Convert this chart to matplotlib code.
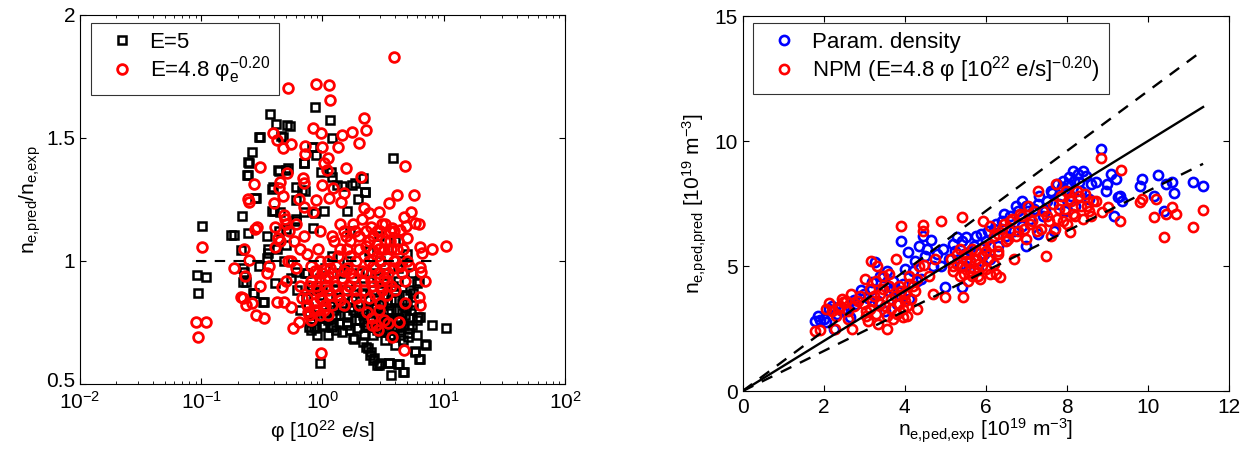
import matplotlib
matplotlib.use("Agg")
import matplotlib.pyplot as plt
import matplotlib.transforms as mtransforms
import numpy as np

# ---------------- data: left panel ----------------
sq_phi = [0.093, 0.094, 0.11, 0.101, 0.177, 0.185, 0.218, 0.214, 0.225, 0.22, 0.223, 0.234,
          0.243, 0.239, 0.243, 0.249, 0.262, 0.242, 0.267, 0.274, 0.279, 0.283, 0.297, 0.30,
          0.307, 0.323, 0.327, 0.347, 0.353, 0.355, 0.371, 0.383, 0.385, 0.39, 0.40, 0.404,
          0.416, 0.43, 0.435, 0.44, 0.458, 0.469, 0.48, 0.50, 0.504, 0.504, 0.51, 0.515,
          0.536, 0.55, 0.60, 0.61, 0.61, 0.61, 0.62, 0.65, 0.683, 0.705, 0.707, 0.714,
          0.716, 0.738, 0.76, 0.776, 0.80, 0.826, 0.828, 0.84, 0.85, 0.865, 0.865, 0.89,
          0.892, 0.90, 0.95, 0.97, 1.01, 1.03, 1.05, 1.1, 1.15, 1.17, 1.19, 1.19,
          1.22, 1.25, 1.3, 1.31, 1.37, 1.4, 1.44, 1.5, 1.58, 1.58, 1.6, 1.68,
          1.74, 1.79, 1.82, 1.84, 1.9, 1.91, 1.98, 2.0, 2.1, 2.14, 2.14, 2.2,
          2.24, 2.24, 2.27, 2.31, 2.39, 2.46, 2.5, 2.5, 2.59, 2.66, 2.7, 2.8,
          2.8, 2.92, 2.98, 3.0, 3.08, 3.2, 3.39, 3.49, 3.54, 3.56, 3.65, 3.7,
          3.8, 3.85, 4.0, 4.1, 4.23, 4.27, 4.37, 4.5, 4.59, 4.69, 4.8, 4.96,
          5.06, 5.12, 5.16, 5.4, 5.63, 5.81, 5.85, 6.0, 6.19, 6.31, 6.35, 6.35,
          7.06, 7.16, 8.0, 10.4,
          1.2, 1.6, 2.4, 3.0, 3.5, 4.5, 2.0, 2.8, 1.4, 0.95, 0.8, 3.3,
          4.2, 5.5, 6.2, 5.0, 1.1, 0.9, 0.8, 1.3, 1.7, 2.6, 3.3, 4.0,
          4.6, 5.5, 6.0, 2.2, 3.8, 1.0, 0.75]
sq_ratio = [0.943, 0.869, 0.934, 1.144, 1.106, 1.104, 1.183, 1.045, 0.957, 0.916, 0.970, 0.916,
            1.112, 1.35, 1.404, 1.40, 1.444, 1.35, 0.869, 0.869, 1.255, 1.255, 1.503, 0.981,
            1.505, 0.835, 0.832, 1.014, 1.047, 1.031, 1.596, 1.205, 1.291, 1.30, 1.203, 0.909,
            1.556, 1.37, 1.367, 1.12, 1.508, 1.505, 1.0, 1.129, 1.37, 1.065, 1.553, 1.377,
            1.55, 0.93, 1.163, 1.248, 1.169, 0.957, 0.88, 0.80, 1.289, 1.40, 1.397, 0.95,
            1.285, 0.855, 0.814, 0.733, 0.76, 1.462, 1.465, 1.133, 0.78, 1.625, 1.196, 1.43,
            0.726, 0.80, 0.584, 1.363, 0.736, 1.203, 0.79, 0.85, 1.573, 1.36, 1.499, 1.34,
            0.74, 0.80, 0.88, 1.309, 0.747, 0.78, 1.306, 0.83, 1.203, 0.74, 0.78, 0.814,
            1.309, 0.686, 0.683, 1.316, 0.76, 0.726, 1.251, 0.80, 0.87, 1.336, 0.672, 0.75,
            1.282, 1.279, 0.652, 0.733, 0.645, 0.618, 0.631, 0.79, 0.598, 0.604, 0.84, 0.577,
            0.72, 0.577, 0.584, 0.80, 0.747, 0.86, 0.828, 0.76, 0.584, 0.587, 0.537, 0.80,
            0.70, 1.42, 0.88, 0.76, 0.581, 0.581, 0.72, 0.83, 0.55, 0.55, 0.78, 0.828,
            0.706, 0.692, 0.726, 0.80, 0.869, 0.631, 0.635, 0.909, 0.774, 0.60, 0.774, 0.602,
            0.663, 0.659, 0.74, 0.726,
            1.02, 1.0, 1.04, 1.0, 1.05, 1.0, 0.95, 0.93, 0.95, 0.93, 0.88, 0.95,
            0.92, 0.95, 0.92, 0.86, 0.70, 0.70, 0.72, 0.72, 0.72, 0.70, 0.68, 0.66,
            0.68, 0.74, 0.76, 0.90, 0.90, 0.88, 0.95]
sq_phi_dense = [2.3, 2.5, 2.7, 2.9, 3.1, 3.3, 3.5, 3.7, 3.9, 4.1, 4.3, 4.6,
                4.9, 2.4, 2.6, 3.0, 3.4, 3.6, 4.0, 4.4, 4.8, 2.2, 2.0, 1.8,
                1.6, 1.45, 1.3, 1.2, 1.1, 1.0, 0.93, 0.85, 0.78, 0.75, 0.82, 0.95,
                1.15, 1.35, 1.55, 1.75, 1.95, 2.15, 2.35, 2.75, 3.15, 3.45, 3.75, 4.15,
                4.5, 5.2, 5.6, 6.0, 5.3, 1.05, 1.25, 1.5, 1.9, 2.5, 3.2, 4.2,
                5.0, 4.0, 2.9, 1.7, 0.7, 0.6, 0.45, 0.42, 0.35]
sq_ratio_dense = [0.80, 0.76, 0.73, 0.78, 0.82, 0.74, 0.79, 0.84, 0.72, 0.80, 0.77, 0.74,
                  0.81, 0.84, 0.88, 0.71, 0.86, 0.70, 0.84, 0.70, 0.86, 0.70, 0.76, 0.80,
                  0.75, 0.71, 0.78, 0.73, 0.76, 0.74, 0.77, 0.73, 0.79, 0.85, 0.90, 0.86,
                  0.82, 0.85, 0.88, 0.84, 0.82, 0.78, 0.74, 0.81, 0.77, 0.72, 0.77, 0.73,
                  0.79, 0.77, 0.82, 0.70, 0.88, 0.97, 0.92, 0.96, 0.90, 0.95, 0.91, 0.97,
                  1.03, 1.08, 1.10, 1.12, 1.20, 1.30, 1.20, 1.05, 1.10]

ci_phi = [0.091, 0.094, 0.11, 0.101, 0.185, 0.213, 0.222, 0.232, 0.23, 0.226, 0.25, 0.245,
          0.25, 0.274, 0.263, 0.283, 0.287, 0.28, 0.305, 0.307, 0.331, 0.347, 0.36, 0.388,
          0.395, 0.406, 0.406, 0.421, 0.421, 0.427, 0.44, 0.449, 0.463, 0.469, 0.47, 0.478,
          0.486, 0.49, 0.50, 0.51, 0.515, 0.52, 0.53, 0.549, 0.549, 0.567, 0.58, 0.60,
          0.635, 0.643, 0.65, 0.677, 0.685, 0.70, 0.70, 0.716, 0.72, 0.74, 0.763, 0.78,
          0.80, 0.80, 0.84, 0.84, 0.85, 0.88, 0.88, 0.88, 0.90, 0.92, 0.95, 0.969,
          0.98, 1.0, 1.0, 1.0, 1.03, 1.04, 1.06, 1.085, 1.1, 1.11, 1.13, 1.13,
          1.15, 1.15, 1.2, 1.21, 1.25, 1.3, 1.35, 1.35, 1.4, 1.43, 1.46, 1.5,
          1.51, 1.55, 1.55, 1.6, 1.7, 1.76, 1.8, 1.85, 1.9, 2.0, 2.0, 2.06,
          2.1, 2.2, 2.2, 2.2, 2.27, 2.3, 2.31, 2.4, 2.42, 2.5, 2.54, 2.6,
          2.7, 2.8, 2.87, 2.92, 2.95, 3.0, 3.1, 3.2, 3.3, 3.5, 3.54, 3.6,
          3.7, 3.76, 3.76, 3.88, 3.9, 4.1, 4.14, 4.27, 4.4, 4.5, 4.69, 4.74,
          4.83, 4.83, 4.93, 4.99, 5.2, 5.39, 5.66, 5.85, 6.23, 6.23, 6.35, 6.35,
          6.35, 6.5, 6.66, 7.06, 8.0, 10.4,
          1.2, 1.7, 2.6, 3.3, 0.9, 1.1, 2.0, 3.0, 4.0, 2.8, 1.4, 0.75,
          0.95, 3.4, 2.3, 1.6]
ci_ratio = [0.751, 0.692, 0.753, 1.056, 0.970, 0.855, 0.85, 0.821, 0.94, 1.05, 1.004, 1.253,
            1.24, 1.312, 0.831, 0.78, 1.14, 1.13, 1.38, 0.9, 0.767, 0.95, 0.98, 1.519,
            1.234, 1.14, 1.058, 1.49, 0.835, 1.095, 1.295, 1.32, 0.895, 1.46, 1.264, 1.187,
            0.835, 1.17, 1.15, 1.356, 1.702, 1.0, 1.12, 1.474, 0.814, 0.726, 1.08, 0.97,
            1.252, 0.753, 1.05, 0.848, 1.339, 1.318, 1.10, 1.435, 1.467, 1.03, 0.794, 0.90,
            0.76, 0.98, 1.54, 1.20, 0.83, 1.718, 1.248, 0.90, 0.80, 1.05, 0.85, 1.519,
            0.625, 1.465, 1.309, 0.95, 1.40, 0.82, 0.90, 1.37, 1.0, 1.42, 1.715, 1.255,
            1.654, 0.86, 0.95, 1.295, 1.08, 0.90, 1.465, 1.02, 0.84, 1.24, 1.512, 0.96,
            1.275, 1.377, 1.10, 0.88, 1.02, 1.526, 0.93, 1.12, 0.85, 1.478, 1.05, 1.343,
            0.96, 1.58, 1.214, 0.88, 1.532, 1.06, 0.794, 1.0, 1.194, 0.92, 0.74, 1.1,
            0.86, 1.02, 0.72, 1.2, 0.95, 1.12, 0.88, 1.05, 0.97, 0.747, 1.234, 1.08,
            0.90, 1.133, 0.692, 1.831, 1.0, 1.05, 1.268, 0.753, 1.126, 0.95, 0.638, 1.18,
            1.388, 0.831, 1.144, 1.092, 0.98, 1.2, 1.268, 1.156, 1.15, 0.855, 1.056, 0.977,
            0.821, 0.957, 1.031, 0.919, 1.049, 1.061,
            1.1, 0.9, 0.98, 1.15, 0.95, 0.78, 0.82, 0.83, 0.88, 1.07, 1.15, 0.82,
            1.12, 0.92, 1.12, 1.05]
ci_phi_dense = [0.75, 0.8, 0.85, 0.9, 0.95, 1.0, 1.05, 1.1, 1.15, 1.2, 1.25, 1.3,
                1.35, 1.45, 1.5, 1.6, 1.65, 0.95, 0.87, 1.02, 1.1, 0.78, 1.4, 1.5,
                1.7, 1.8, 1.9, 2.0, 2.1, 2.2, 2.3, 2.4, 2.5, 2.6, 2.7, 2.8,
                2.9, 3.0, 3.1, 3.2, 3.3, 3.4, 3.5, 3.6, 3.7, 3.8, 3.9, 4.0,
                4.2, 4.4, 4.6, 4.8, 5.0, 2.2, 2.6, 3.0, 3.4, 1.9, 1.7, 2.4,
                2.9, 3.2, 2.75, 2.55, 0.65, 0.6, 0.7, 0.55, 0.45, 0.5]
ci_ratio_dense = [0.85, 0.92, 0.80, 0.88, 0.78, 0.84, 0.93, 0.88, 0.97, 0.82, 0.90, 0.98,
                  0.86, 0.93, 0.82, 0.97, 0.90, 1.0, 0.96, 0.80, 0.94, 0.78, 1.05, 1.12,
                  1.08, 1.15, 1.0, 1.10, 1.17, 1.02, 0.95, 1.08, 1.14, 1.04, 0.97, 1.12,
                  1.05, 1.0, 1.15, 0.93, 1.08, 1.02, 0.95, 1.12, 1.05, 0.97, 1.12, 1.0,
                  1.08, 0.98, 1.05, 0.92, 1.0, 0.92, 0.90, 0.90, 0.86, 0.88, 0.95, 0.85,
                  0.80, 0.76, 0.74, 0.77, 0.90, 1.15, 1.22, 1.0, 1.08, 0.92]

ref_phi = [0.09, 9.0]
ref_ratio = [1.0, 1.0]

# ---------------- data: right panel ----------------
par_exp = [1.78, 1.90, 2.01, 2.13, 2.25, 2.33, 2.45, 2.65, 2.8, 2.92, 3.1, 3.2,
           3.27, 3.35, 3.47, 3.5, 3.6, 3.71, 3.8, 3.91, 3.95, 4.08, 4.1, 4.2,
           4.36, 4.46, 4.5, 4.4, 4.65, 4.7, 4.95, 5.0, 5.1, 5.2, 5.3, 5.35,
           5.4, 5.45, 5.51, 5.6, 5.7, 5.8, 5.89, 5.95, 6.0, 6.1, 6.2, 6.3,
           6.4, 6.5, 6.6, 6.7, 6.8, 6.9, 6.98, 6.98, 7.1, 7.2, 7.28, 7.28,
           7.4, 7.5, 7.62, 7.67, 7.8, 7.87, 7.95, 8.02, 8.1, 8.17, 8.2, 8.27,
           8.35, 8.47, 8.55, 8.71, 8.84, 8.96, 9.16, 9.21, 9.26, 9.36, 9.8, 9.85,
           10.15, 10.25, 10.4, 10.45, 10.59, 10.64, 11.12, 11.36,
           1.85, 2.05, 2.2, 2.5, 2.75, 3.0, 3.2, 3.4, 3.55, 3.7, 3.9, 4.0,
           4.25, 4.3, 4.55, 4.8, 4.9, 5.25, 5.4, 5.5, 5.6, 5.75, 6.05, 6.25,
           6.45, 6.6, 6.75, 6.9, 7.05, 7.3, 7.45, 7.6, 7.75, 7.9, 8.05, 8.15,
           8.3, 8.4, 8.6, 8.0, 9.0, 9.3, 9.1]
par_pred = [2.80, 2.85, 2.89, 3.29, 2.49, 3.09, 3.2, 2.98, 3.5, 4.06, 3.71, 4.38,
            5.15, 3.6, 4.55, 3.2, 4.0, 4.42, 3.5, 6.02, 4.3, 5.55, 3.7, 4.8,
            5.82, 6.22, 5.42, 4.5, 6.04, 5.0, 5.68, 4.15, 5.3, 5.9, 6.15, 5.0,
            4.15, 5.5, 6.15, 5.2, 5.8, 4.9, 6.28, 5.5, 6.0, 5.3, 6.5, 5.8,
            6.8, 6.2, 7.0, 6.4, 7.2, 6.6, 7.41, 5.82, 6.9, 7.3, 7.48, 6.28,
            7.0, 7.6, 7.91, 6.42, 7.5, 8.15, 7.2, 8.28, 7.8, 8.41, 7.4, 8.68,
            8.0, 8.61, 7.7, 8.35, 9.70, 8.01, 7.01, 8.48, 7.75, 7.61, 8.21, 8.48,
            7.81, 8.64, 7.19, 8.28, 8.35, 7.91, 8.35, 8.21,
            3.0, 2.75, 3.4, 3.3, 3.65, 3.9, 4.1, 4.6, 4.8, 4.1, 3.8, 4.9,
            5.2, 4.4, 5.7, 5.5, 5.0, 5.6, 6.0, 5.0, 5.6, 6.2, 6.4, 6.7,
            7.1, 6.5, 7.4, 7.6, 7.2, 7.8, 7.2, 8.0, 8.3, 8.4, 8.55, 8.8,
            8.35, 8.8, 8.3, 8.0, 8.3, 7.8, 8.7]

npm_exp = [1.78, 1.9, 2.13, 2.28, 2.35, 2.48, 2.6, 2.67, 2.7, 2.85, 3.02, 3.05,
           3.15, 3.17, 3.25, 3.32, 3.4, 3.45, 3.56, 3.6, 3.65, 3.79, 3.85, 3.91,
           3.96, 4.0, 4.06, 4.1, 4.2, 4.31, 4.35, 4.46, 4.46, 4.48, 4.6, 4.7,
           4.75, 4.9, 4.98, 5.2, 5.3, 5.35, 5.42, 5.43, 5.5, 5.6, 5.65, 5.75,
           5.8, 5.9, 5.94, 6.0, 6.1, 6.2, 6.29, 6.34, 6.4, 6.5, 6.6, 6.7,
           6.8, 6.9, 7.0, 7.1, 7.2, 7.28, 7.35, 7.48, 7.5, 7.6, 7.72, 7.8,
           7.9, 7.97, 8.07, 8.1, 8.2, 8.3, 8.4, 8.5, 8.6, 8.71, 8.84, 8.86,
           9.01, 9.31, 9.34, 9.8, 9.85, 10.15, 10.2, 10.4, 10.45, 10.59, 10.69, 11.12,
           11.36]
npm_pred = [2.42, 2.45, 3.51, 2.49, 3.3, 3.55, 3.2, 3.89, 2.49, 3.6, 4.49, 3.0,
            3.3, 5.19, 3.8, 5.02, 3.5, 4.1, 2.49, 4.7, 3.7, 5.28, 4.2, 6.62,
            2.95, 3.6, 3.02, 4.6, 4.2, 3.29, 5.0, 6.64, 6.42, 5.06, 4.6, 3.89,
            5.3, 6.81, 3.75, 5.0, 5.5, 4.6, 6.95, 3.75, 5.2, 4.8, 5.7, 5.3,
            4.6, 5.0, 6.81, 5.6, 4.7, 6.2, 5.62, 4.55, 6.5, 6.0, 6.8, 5.3,
            6.4, 7.0, 6.1, 6.7, 7.2, 8.01, 6.5, 5.42, 7.0, 6.2, 8.28, 7.3,
            6.8, 8.01, 6.35, 7.6, 7.0, 7.8, 6.9, 7.4, 7.0, 7.61, 9.34, 7.15,
            7.35, 6.81, 8.85, 7.55, 7.68, 6.97, 7.68, 6.18, 7.08, 7.35, 7.08, 6.55,
            7.25]
npm_exp_dense = [3.05, 3.1, 3.2, 3.3, 3.35, 3.4, 3.5, 3.55, 3.6, 3.65, 3.7, 3.75,
                 3.8, 3.85, 3.9, 3.95, 4.0, 4.05, 4.1, 4.15, 4.25, 4.3, 3.3, 3.45,
                 3.15, 2.05, 2.2, 2.4, 2.55, 2.75, 2.9, 3.0, 2.3, 2.6, 2.45,
                 5.15, 5.2, 5.3, 5.35, 5.45, 5.5, 5.55, 5.6, 5.7, 5.75, 5.8, 5.85,
                 5.9, 6.0, 6.05, 6.1, 6.2, 6.25, 6.3, 5.95, 5.4, 5.65,
                 6.3, 6.45, 6.55, 6.65, 6.75, 6.85, 6.95, 7.05, 7.15, 7.25, 7.4, 7.55,
                 7.65, 7.75, 7.85, 7.95, 8.05, 8.15, 8.25, 8.35, 8.45, 8.55, 8.65, 8.0,
                 7.7, 6.1, 6.6]
npm_pred_dense = [3.2, 2.8, 3.6, 3.1, 2.7, 3.9, 3.4, 3.0, 4.2, 3.3, 2.9, 3.8,
                  3.1, 3.5, 4.0, 3.3, 3.9, 3.4, 4.3, 3.7, 4.0, 4.5, 4.4, 4.6,
                  4.1, 3.3, 3.2, 3.4, 3.6, 3.4, 3.8, 3.5, 3.0, 2.9, 3.7,
                  5.3, 4.8, 5.1, 5.7, 4.7, 5.5, 4.4, 5.2, 4.9, 5.6, 5.1, 4.5,
                  5.4, 4.9, 5.3, 5.8, 5.1, 4.7, 5.5, 5.75, 5.0, 4.6,
                  6.3, 6.7, 6.1, 6.9, 6.2, 7.1, 6.5, 7.4, 6.8, 6.4, 7.2, 6.8,
                  7.5, 6.9, 7.8, 7.3, 7.7, 7.1, 8.0, 7.4, 7.9, 7.2, 7.6, 6.7,
                  6.5, 6.6, 6.4]

line_x = [0.0, 11.36]
line_factors = [1.0, 1.2, 0.8]

# ---------------- style ----------------
plt.rcParams['font.family'] = ['Liberation Sans', 'DejaVu Sans']
plt.rcParams['mathtext.fontset'] = 'custom'
plt.rcParams['mathtext.rm'] = 'Liberation Sans'
plt.rcParams['mathtext.it'] = 'Liberation Sans'
plt.rcParams['mathtext.default'] = 'regular'
plt.rcParams['axes.linewidth'] = 0.8

fig = plt.figure(figsize=(12.48, 4.51), dpi=100)
ax1 = fig.add_axes([0.0641, 0.1486, 0.3886, 0.8182])
ax2 = fig.add_axes([0.5951, 0.1330, 0.3897, 0.8315])

for ax in (ax1, ax2):
    ax.tick_params(which='both', direction='in', top=True, right=True, labelsize=15)
    ax.tick_params(which='major', length=4, width=0.8)
    ax.tick_params(which='minor', length=2.2, width=0.6)
    ax.tick_params(axis='x', which='both', pad=5)

mk_sq = dict(linestyle='none', marker='s', markersize=5.8, markerfacecolor='none',
             markeredgecolor='black', markeredgewidth=1.8)
mk_ci = dict(linestyle='none', marker='o', markersize=7.0, markerfacecolor='none',
             markeredgecolor='red', markeredgewidth=2.0)

# left panel
ax1.plot(sq_phi + sq_phi_dense, sq_ratio + sq_ratio_dense, label='E=5', **mk_sq)
ax1.plot(ci_phi + ci_phi_dense, ci_ratio + ci_ratio_dense,
         label=r'E=4.8 $\varphi_e^{-0.20}$', **mk_ci)
ax1.plot(ref_phi, ref_ratio, linestyle=(0, (5, 4)), color='black', linewidth=1.5)
ax1.set_xscale('log')
ax1.set_xlim(1e-2, 1e2)
ax1.set_ylim(0.5, 2)
ax1.set_yticks([0.5, 1, 1.5, 2])
ax1.set_yticklabels(['0.5', '1', '1.5', '2'])
ax1.set_xlabel(r'$\varphi$ [10$^{22}$ e/s]', fontsize=15, labelpad=4)
ax1.set_ylabel(r'n$_{e{,}pred}$/n$_{e{,}exp}$', fontsize=15, labelpad=2)
leg1 = ax1.legend(loc='upper left', bbox_to_anchor=(0.022, 0.9775), fontsize=16,
                  frameon=True, fancybox=False, edgecolor='black', borderpad=0.4,
                  handletextpad=0.25, labelspacing=0.05, borderaxespad=0, handlelength=2.0)
leg1.get_frame().set_linewidth(0.8)

# nudge the lowest y tick label up a little so it clears the 10^-2 label
fig.canvas.draw()
shift = mtransforms.ScaledTranslation(0, 4 / 100.0, fig.dpi_scale_trans)
lab0 = ax1.get_yticklabels()[0]
lab0.set_transform(lab0.get_transform() + shift)

# right panel
ax2.plot(par_exp, par_pred, linestyle='none', marker='o', markersize=6.6,
         markerfacecolor='none', markeredgecolor='blue', markeredgewidth=1.9,
         label='Param. density')
ax2.plot(npm_exp + npm_exp_dense, npm_pred + npm_pred_dense, linestyle='none', marker='o',
         markersize=6.6, markerfacecolor='none', markeredgecolor='red', markeredgewidth=1.9,
         label=r'NPM (E=4.8 $\varphi$ [10$^{22}$ e/s]$^{-0.20}$)')
lx = np.array(line_x)
ax2.plot(lx, lx * line_factors[0], color='black', linewidth=1.7)
ax2.plot(lx, lx * line_factors[1], color='black', linewidth=1.7, linestyle=(0, (5, 4)))
ax2.plot(lx, lx * line_factors[2], color='black', linewidth=1.7, linestyle=(0, (5, 4)))
ax2.set_xlim(0, 12)
ax2.set_ylim(0, 15)
ax2.set_xticks([0, 2, 4, 6, 8, 10, 12])
ax2.set_yticks([0, 5, 10, 15])
ax2.set_xlabel(r'n$_{e{,}ped{,}exp}$ [10$^{19}$ m$^{-3}$]', fontsize=15, labelpad=0)
ax2.set_ylabel(r'n$_{e{,}ped{,}pred}$ [10$^{19}$ m$^{-3}$]', fontsize=15, labelpad=4)
leg2 = ax2.legend(loc='upper left', bbox_to_anchor=(0.0218, 0.9805), fontsize=16,
                  frameon=True, fancybox=False, edgecolor='black', borderpad=0.4,
                  handletextpad=0.25, labelspacing=0.05, borderaxespad=0, handlelength=2.0)
leg2.get_frame().set_linewidth(0.8)

fig.savefig('out.png', dpi=100)
